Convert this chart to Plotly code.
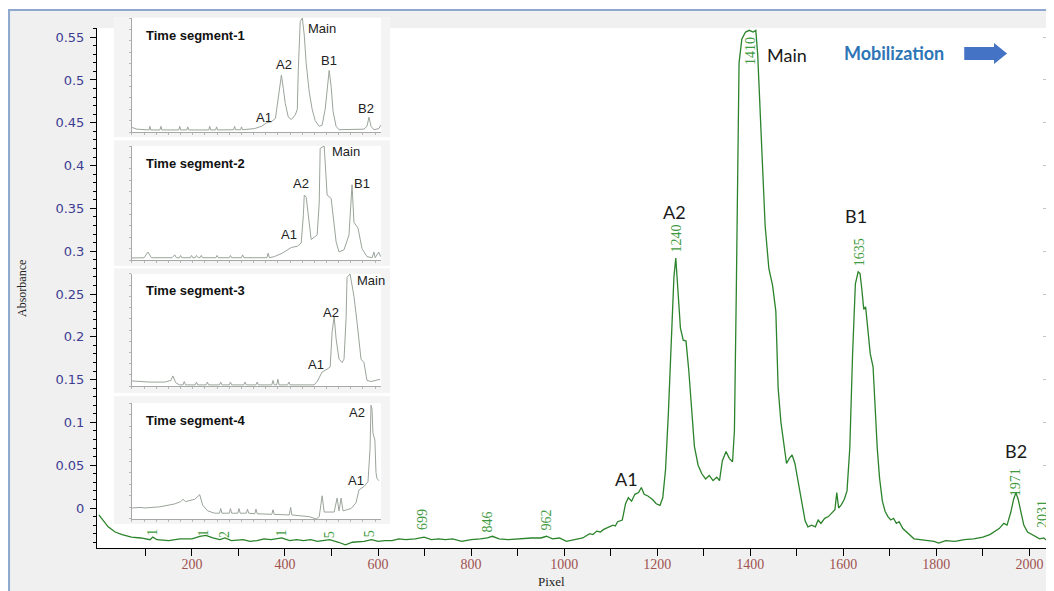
import plotly.graph_objects as go

# ---------------- data ----------------
# main electropherogram (pixel, absorbance)
main_spectrum = [
    (0, -0.008), (10, -0.015), (20, -0.022), (35, -0.028), (50, -0.031), (70, -0.034),
    (90, -0.035), (110, -0.037), (116, -0.034), (125, -0.037), (150, -0.038), (175, -0.036),
    (200, -0.036), (217, -0.033), (230, -0.032), (245, -0.035), (260, -0.037), (271, -0.035),
    (285, -0.038), (310, -0.037), (325, -0.039), (340, -0.038), (355, -0.036), (370, -0.037),
    (393, -0.035), (410, -0.038), (425, -0.037), (440, -0.038), (455, -0.037), (470, -0.039),
    (496, -0.037), (515, -0.040), (530, -0.043), (545, -0.040), (570, -0.039), (586, -0.037),
    (600, -0.039), (615, -0.038), (630, -0.038), (645, -0.036), (660, -0.037), (680, -0.036),
    (699, -0.034), (715, -0.037), (730, -0.036), (745, -0.037), (760, -0.036), (780, -0.039),
    (800, -0.037), (820, -0.036), (835, -0.035), (846, -0.033), (860, -0.036), (880, -0.037),
    (900, -0.036), (915, -0.035), (930, -0.035), (950, -0.035), (962, -0.033), (975, -0.036),
    (990, -0.035), (1005, -0.039), (1020, -0.037), (1040, -0.035), (1055, -0.030), (1062, -0.031),
    (1070, -0.027), (1078, -0.028), (1085, -0.025), (1095, -0.022), (1105, -0.020), (1110, -0.021),
    (1115, -0.016), (1125, -0.014), (1132, 0.005), (1138, 0.012), (1145, 0.008), (1152, 0.016),
    (1160, 0.018), (1166, 0.024), (1172, 0.016), (1180, 0.014), (1190, 0.010), (1198, 0.005),
    (1206, 0.003), (1212, 0.012), (1218, 0.045), (1224, 0.110), (1230, 0.200), (1236, 0.270),
    (1240, 0.292), (1244, 0.260), (1250, 0.210), (1256, 0.196), (1262, 0.195), (1268, 0.160),
    (1274, 0.110), (1280, 0.072), (1288, 0.050), (1296, 0.040), (1304, 0.034), (1312, 0.038),
    (1320, 0.032), (1328, 0.036), (1334, 0.032), (1340, 0.055), (1348, 0.066), (1355, 0.058),
    (1362, 0.054), (1366, 0.090), (1370, 0.250), (1373, 0.420), (1376, 0.520), (1382, 0.548),
    (1390, 0.556), (1398, 0.558), (1406, 0.556), (1412, 0.558), (1416, 0.530), (1420, 0.480),
    (1426, 0.400), (1432, 0.330), (1440, 0.280), (1448, 0.260), (1455, 0.230), (1460, 0.140),
    (1466, 0.100), (1472, 0.075), (1478, 0.052), (1484, 0.058), (1490, 0.062), (1496, 0.052),
    (1502, 0.035), (1510, 0.010), (1518, -0.015), (1524, -0.022), (1532, -0.020), (1540, -0.022),
    (1546, -0.014), (1552, -0.018), (1560, -0.012), (1568, -0.010), (1576, -0.005), (1582, -0.002),
    (1586, 0.018), (1590, 0.000), (1596, 0.004), (1602, 0.010), (1608, 0.020), (1614, 0.070),
    (1620, 0.180), (1626, 0.262), (1632, 0.276), (1636, 0.274), (1640, 0.255), (1644, 0.232),
    (1648, 0.235), (1652, 0.215), (1658, 0.180), (1664, 0.165), (1668, 0.120), (1673, 0.070),
    (1678, 0.035), (1684, 0.008), (1690, -0.004), (1696, -0.010), (1702, -0.014), (1708, -0.012),
    (1714, -0.018), (1720, -0.016), (1728, -0.024), (1736, -0.028), (1744, -0.033), (1752, -0.036),
    (1765, -0.037), (1780, -0.038), (1795, -0.039), (1805, -0.041), (1820, -0.038), (1840, -0.039),
    (1860, -0.037), (1880, -0.036), (1900, -0.034), (1915, -0.031), (1925, -0.028), (1935, -0.024),
    (1945, -0.018), (1952, -0.020), (1960, -0.005), (1966, 0.010), (1971, 0.018), (1976, 0.010),
    (1982, -0.005), (1988, -0.020), (1996, -0.028), (2005, -0.031), (2014, -0.034), (2022, -0.036),
    (2031, -0.035), (2038, -0.038),
]

# inset electropherograms (pixel, relative signal)
segment_1 = [
    (0, 0.04), (40, 0.025), (140, 0.018), (147, 0.05), (154, 0.018), (230, 0.018), (238, 0.05),
    (246, 0.018), (385, 0.018), (393, 0.05), (401, 0.018), (451, 0.018), (459, 0.045), (467, 0.018),
    (631, 0.018), (639, 0.05), (647, 0.018), (688, 0.018), (696, 0.045), (704, 0.018), (836, 0.02),
    (844, 0.05), (852, 0.02), (893, 0.02), (901, 0.045), (909, 0.02), (1007, 0.03), (1065, 0.05),
    (1106, 0.08), (1147, 0.09), (1180, 0.12), (1204, 0.30), (1229, 0.50), (1245, 0.38), (1261, 0.25),
    (1286, 0.13), (1311, 0.11), (1343, 0.15), (1360, 0.20), (1368, 0.55), (1384, 0.97), (1401, 1.0),
    (1417, 0.85), (1433, 0.60), (1458, 0.35), (1482, 0.20), (1507, 0.10), (1540, 0.05), (1564, 0.06),
    (1589, 0.20), (1613, 0.50), (1622, 0.54), (1638, 0.40), (1654, 0.18), (1679, 0.05), (1703, 0.02),
    (1908, 0.025), (1933, 0.05), (1949, 0.13), (1966, 0.05), (1990, 0.02), (2031, 0.03), (2045, 0.06),
]
segment_2 = [
    (0, 0.018), (100, 0.02), (131, 0.07), (160, 0.02), (330, 0.02), (352, 0.045), (365, 0.02),
    (390, 0.02), (400, 0.04), (410, 0.02), (480, 0.02), (490, 0.04), (500, 0.02), (520, 0.02),
    (530, 0.04), (545, 0.02), (560, 0.02), (570, 0.04), (580, 0.02), (690, 0.02), (700, 0.04),
    (710, 0.02), (800, 0.02), (810, 0.04), (820, 0.02), (900, 0.02), (910, 0.045), (920, 0.02),
    (1110, 0.02), (1120, 0.06), (1130, 0.02), (1171, 0.03), (1237, 0.06), (1310, 0.11), (1360, 0.12),
    (1392, 0.15), (1410, 0.40), (1417, 0.57), (1433, 0.55), (1450, 0.37), (1474, 0.18), (1499, 0.20),
    (1523, 0.22), (1540, 0.50), (1548, 0.98), (1581, 1.0), (1605, 0.57), (1638, 0.54), (1663, 0.30),
    (1679, 0.16), (1703, 0.07), (1744, 0.09), (1785, 0.22), (1802, 0.50), (1810, 0.66), (1826, 0.33),
    (1859, 0.28), (1892, 0.10), (1933, 0.03), (1975, 0.02), (1990, 0.07), (2000, 0.02), (2030, 0.07),
    (2045, 0.03),
]
segment_3 = [
    (0, 0.045), (147, 0.035), (270, 0.035), (320, 0.05), (336, 0.09), (360, 0.03), (390, 0.01),
    (420, 0.01), (430, 0.04), (440, 0.01), (520, 0.01), (530, 0.035), (540, 0.01), (610, 0.01),
    (620, 0.035), (630, 0.01), (720, 0.01), (730, 0.035), (740, 0.01), (800, 0.01), (810, 0.035),
    (820, 0.01), (920, 0.01), (930, 0.035), (940, 0.01), (1020, 0.01), (1030, 0.035), (1040, 0.01),
    (1150, 0.01), (1160, 0.05), (1170, 0.01), (1190, 0.01), (1200, 0.06), (1210, 0.01), (1280, 0.01),
    (1290, 0.035), (1300, 0.01), (1499, 0.01), (1523, 0.04), (1564, 0.125), (1605, 0.15), (1630, 0.17),
    (1646, 0.48), (1663, 0.62), (1679, 0.42), (1703, 0.24), (1728, 0.21), (1744, 0.24), (1761, 0.60),
    (1769, 0.97), (1794, 1.0), (1826, 0.80), (1851, 0.57), (1884, 0.24), (1908, 0.21), (1933, 0.05),
    (1966, 0.04), (1998, 0.05), (2040, 0.06),
]
segment_4 = [
    (0, 0.095), (66, 0.10), (106, 0.095), (229, 0.105), (352, 0.13), (400, 0.15), (420, 0.17),
    (440, 0.15), (516, 0.17), (557, 0.21), (581, 0.12), (622, 0.07), (680, 0.05), (720, 0.05),
    (730, 0.09), (740, 0.05), (800, 0.05), (810, 0.09), (820, 0.05), (870, 0.05), (880, 0.09),
    (890, 0.05), (940, 0.05), (950, 0.085), (960, 0.05), (1010, 0.045), (1020, 0.085), (1030, 0.045),
    (1150, 0.04), (1160, 0.08), (1170, 0.04), (1294, 0.035), (1305, 0.10), (1315, 0.035), (1458, 0.02),
    (1515, 0.0), (1540, 0.02), (1564, 0.20), (1581, 0.06), (1663, 0.06), (1687, 0.18), (1703, 0.07),
    (1720, 0.18), (1736, 0.07), (1802, 0.09), (1843, 0.14), (1867, 0.25), (1908, 0.28), (1941, 0.32),
    (1958, 0.60), (1966, 0.98), (1974, 0.95), (1982, 0.74), (1998, 0.68), (2007, 0.40), (2015, 0.35),
    (2031, 0.33),
]
segments = [segment_1, segment_2, segment_3, segment_4]
segment_titles = ["Time segment-1", "Time segment-2", "Time segment-3", "Time segment-4"]

# peak-number labels on the main trace (text, x, y)
peak_numbers = [
    ("1240", 1241, 0.315), ("1410", 1402, 0.534), ("1635", 1634, 0.299),
    ("1971", 1969, 0.030), ("2031", 2027, -0.007),
    ("699", 694, -0.013), ("846", 836, -0.016), ("962", 962, -0.014),
]
# partially hidden peak numbers (only their first digits show under the inset)
hidden_numbers = [("1", 116, -0.028), ("1", 225, -0.029), ("2", 270, -0.031),
                  ("1", 393, -0.029), ("5", 496, -0.031), ("5", 582, -0.030)]
# peak names on the main trace
peak_names = [("A1", 1134, 0.034), ("A2", 1237, 0.346), ("Main", 1478, 0.529),
              ("B1", 1628, 0.341), ("B2", 1972, 0.067)]
# peak names in the insets (inset index, text, x, y)
inset_names = [
    (0, "Main", 1564, 0.91), (0, "A2", 1253, 0.59), (0, "B1", 1622, 0.63), (0, "A1", 1089, 0.13),
    (0, "B2", 1925, 0.21),
    (1, "Main", 1761, 0.956), (1, "A2", 1392, 0.675), (1, "B1", 1892, 0.667), (1, "A1", 1294, 0.22),
    (2, "Main", 1966, 0.946), (2, "A2", 1638, 0.66), (2, "A1", 1515, 0.196),
    (3, "A2", 1851, 0.914), (3, "A1", 1843, 0.336),
]

y_ticks = [0, 0.05, 0.1, 0.15, 0.2, 0.25, 0.3, 0.35, 0.4, 0.45, 0.5, 0.55]
y_tick_labels = ["0", "0.05", "0.1", "0.15", "0.2", "0.25", "0.3", "0.35", "0.4", "0.45", "0.5", "0.55"]
x_ticks = [100, 200, 300, 400, 500, 600, 700, 800, 900, 1000,
           1100, 1200, 1300, 1400, 1500, 1600, 1700, 1800, 1900, 2000]
x_tick_labels = ["", "200", "", "400", "", "600", "", "800", "", "1000",
                 "", "1200", "", "1400", "", "1600", "", "1800", "", "2000"]

# ---------------- layout geometry ----------------
MAIN_TOP = 0.9665
INSET_X = [0.0368, 0.2986]
INSET_Y = [[0.7732, 0.9851], [0.5353, 0.7472], [0.3011, 0.5093], [0.0539, 0.2695]]
PANEL_X = [0.0179, 0.3081]
PANEL_Y = [[0.764, 0.987], [0.524, 0.758], [0.288, 0.520], [0.0446, 0.2825]]

fig = go.Figure()
fig.add_trace(go.Scatter(
    x=[p[0] for p in main_spectrum], y=[p[1] for p in main_spectrum],
    mode="lines", line=dict(color="#2b832b", width=1.3), xaxis="x", yaxis="y",
    hoverinfo="skip", showlegend=False))
# dummy trace for right mirror axis
fig.add_trace(go.Scatter(x=[None], y=[None], xaxis="x", yaxis="y6", showlegend=False,
                         hoverinfo="skip"))

for i, seg in enumerate(segments):
    fig.add_trace(go.Scatter(
        x=[p[0] for p in seg], y=[p[1] for p in seg], mode="lines",
        line=dict(color="#9ba49b", width=1), xaxis=f"x{i+2}", yaxis=f"y{i+2}",
        hoverinfo="skip", showlegend=False))

layout = dict(
    width=1054, height=591,
    # the page body has an 8px margin, so the figure is laid out 8px up/left
    margin=dict(l=89, r=14, t=2, b=51),
    paper_bgcolor="white", plot_bgcolor="rgba(0,0,0,0)",
    showlegend=False,
    xaxis=dict(domain=[0, 1], range=[-4, 2040], anchor="y", showline=True, linecolor="black",
               linewidth=1, ticks="outside", ticklen=7, tickcolor="black",
               tickvals=x_ticks, ticktext=x_tick_labels, showgrid=False, zeroline=False,
               ticklabelstandoff=-4,
               tickfont=dict(family="Liberation Serif", size=14, color="#a0524f")),
    yaxis=dict(domain=[0, MAIN_TOP], range=[-0.0467, 0.5607], anchor="x", showline=True,
               linecolor="black", linewidth=1, ticks="outside", ticklen=6, tickcolor="black",
               tickvals=y_ticks, ticktext=y_tick_labels, showgrid=False, zeroline=False,
               ticklabelstandoff=3,
               minor=dict(dtick=0.01, tick0=0, ticks="outside", ticklen=3, tickcolor="black",
                          showgrid=False),
               tickfont=dict(family="DejaVu Sans", size=13, color="#3d3d92")),
    yaxis6=dict(overlaying="y", side="right", anchor="x", range=[-0.0467, 0.5607],
                showline=True, linecolor="#c4c4c4", ticks="inside", ticklen=5,
                tickcolor="#c4c4c4", dtick=0.05, tick0=0, showticklabels=False,
                showgrid=False, zeroline=False),
)
for i in range(4):
    layout[f"xaxis{i+2}"] = dict(domain=INSET_X, anchor=f"y{i+2}", range=[0, 2048],
                                 showline=True, linecolor="#a8a8a8", linewidth=1,
                                 ticks="outside", ticklen=2, tickcolor="#b8b8b8", dtick=100,
                                 showticklabels=False, showgrid=False, zeroline=False)
    layout[f"yaxis{i+2}"] = dict(domain=INSET_Y[i], anchor=f"x{i+2}", range=[0, 1.0],
                                 showline=True, linecolor="#a8a8a8", linewidth=1,
                                 ticks="outside", ticklen=2, tickcolor="#b8b8b8", dtick=0.1,
                                 showticklabels=False, showgrid=False, zeroline=False)
fig.update_layout(**layout)

# ---------------- background shapes ----------------
shapes = [
    dict(type="rect", xref="paper", yref="paper", x0=-0.0925, x1=1.03, y0=-0.2, y1=1.0,
         fillcolor="#f0f0f0", line=dict(color="#8ea8cf", width=2), layer="below"),
    dict(type="rect", xref="paper", yref="paper", x0=0, x1=1, y0=0, y1=MAIN_TOP,
         fillcolor="white", line=dict(width=0), layer="below"),
]
for i in range(4):
    shapes.append(dict(type="rect", xref="paper", yref="paper", x0=PANEL_X[0], x1=PANEL_X[1],
                       y0=PANEL_Y[i][0], y1=PANEL_Y[i][1], fillcolor="#f4f4f4",
                       line=dict(width=0), layer="below"))
    shapes.append(dict(type="rect", xref="paper", yref="paper", x0=INSET_X[0], x1=INSET_X[1],
                       y0=INSET_Y[i][0], y1=INSET_Y[i][1], fillcolor="white",
                       line=dict(width=0), layer="below"))
# Mobilization arrow
shapes.append(dict(type="path", xref="x", yref="y",
                   path="M 1860,0.5386 L 1924,0.5386 L 1924,0.5433 L 1952,0.531 "
                        "L 1924,0.5187 L 1924,0.5234 L 1860,0.5234 Z",
                   fillcolor="#4472c4", line=dict(width=0), layer="above"))
fig.update_layout(shapes=shapes)

# ---------------- annotations ----------------
ann = []
for t, x, y in peak_numbers + hidden_numbers:
    ann.append(dict(text=t, x=x, y=y, xref="x", yref="y", showarrow=False, textangle=-90,
                    xanchor="center", yanchor="middle",
                    font=dict(family="Liberation Serif", size=14, color="#3f9a3f")))
for t, x, y in peak_names:
    ann.append(dict(text=t, x=x, y=y, xref="x", yref="y", showarrow=False,
                    xanchor="center", yanchor="middle",
                    font=dict(family="Lato", size=18, color="#1a1a1a")))
ann.append(dict(text="<b>Mobilization</b>", x=1710, y=0.5315, xref="x", yref="y",
                showarrow=False, xanchor="center", yanchor="middle",
                font=dict(family="Lato", size=18, color="#2e75b6")))
for i, title in enumerate(segment_titles):
    ann.append(dict(text=f"<b>{title}</b>", x=100, y=0.85, xref=f"x{i+2}", yref=f"y{i+2}",
                    showarrow=False, xanchor="left", yanchor="middle",
                    font=dict(family="Liberation Sans", size=13, color="#111111")))
for i, t, x, y in inset_names:
    ann.append(dict(text=t, x=x, y=y, xref=f"x{i+2}", yref=f"y{i+2}", showarrow=False,
                    xanchor="center", yanchor="middle",
                    font=dict(family="Liberation Sans", size=13, color="#222222")))
ann.append(dict(text="Absorbance", x=-0.0789, y=MAIN_TOP / 2, xref="paper", yref="paper",
                showarrow=False, textangle=-90, xanchor="center", yanchor="middle",
                font=dict(family="Liberation Serif", size=12, color="#222222")))
ann.append(dict(text="Pixel", x=0.4784, y=-0.0615, xref="paper", yref="paper",
                showarrow=False, xanchor="center", yanchor="middle",
                font=dict(family="Liberation Serif", size=13, color="#222222")))
fig.update_layout(annotations=ann)

fig.write_html("out.html")
